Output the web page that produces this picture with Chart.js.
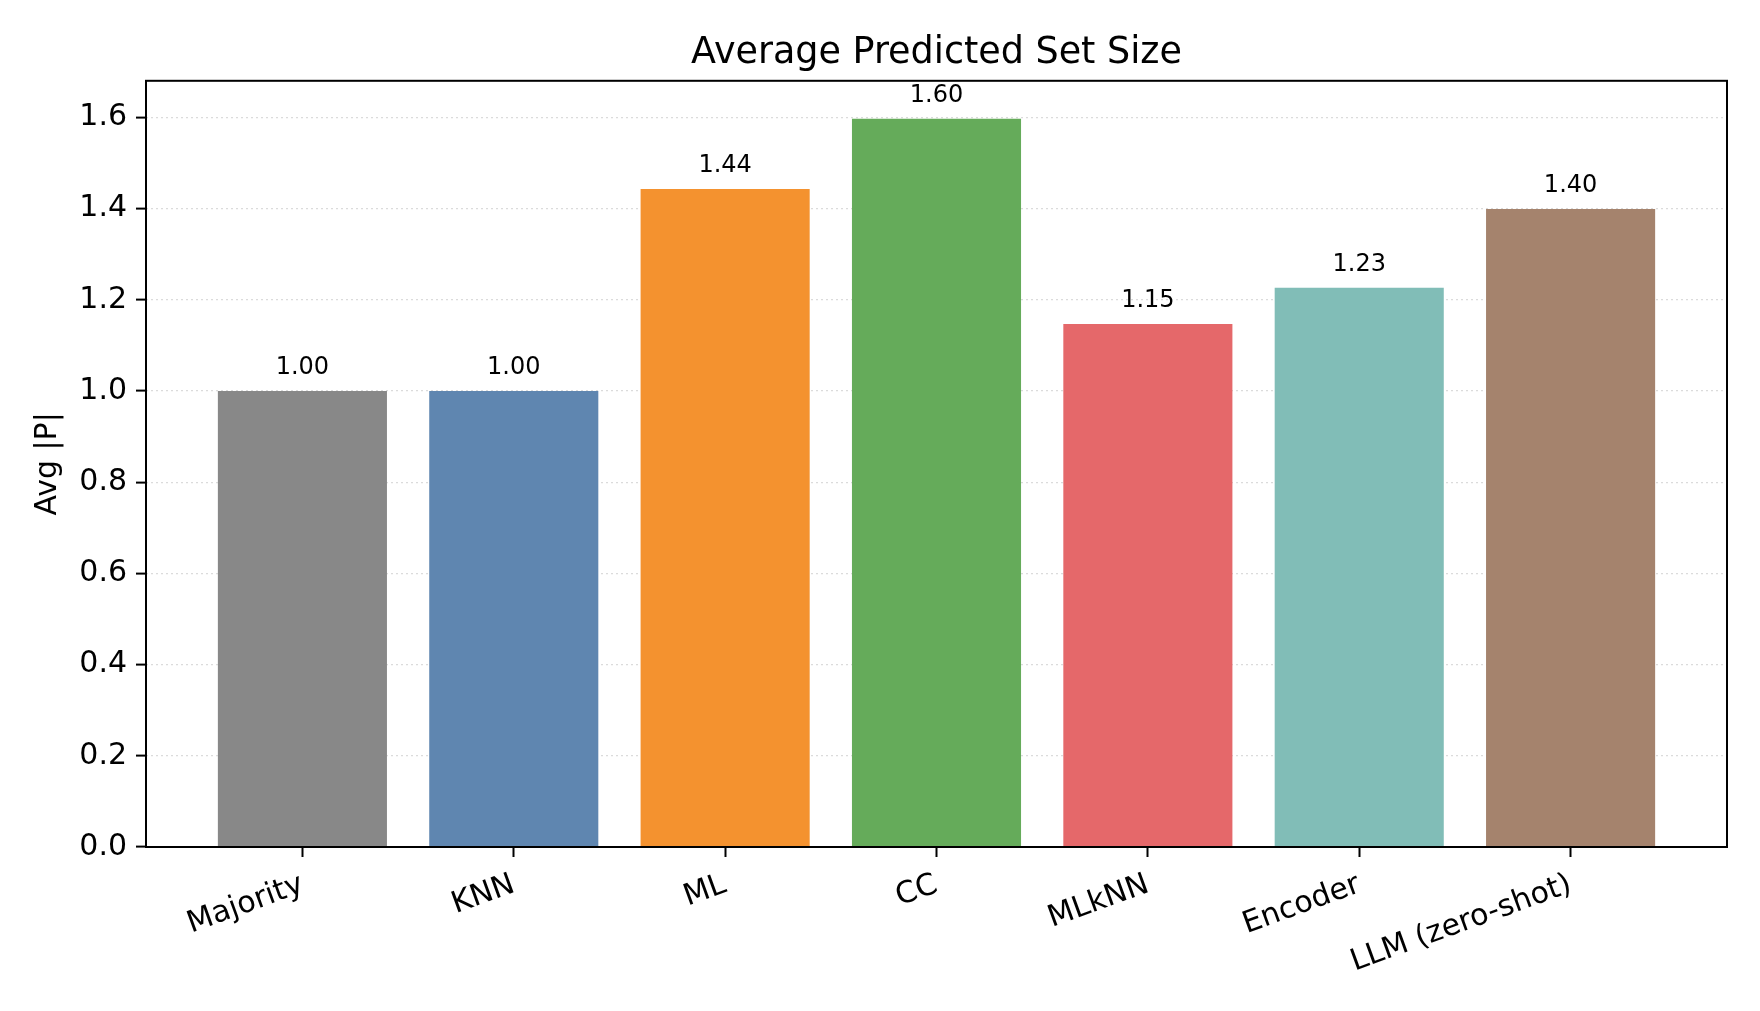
<!DOCTYPE html>
<html>
<head>
<meta charset="utf-8">
<script src="https://cdn.jsdelivr.net/npm/chart.js@4/dist/chart.umd.min.js"></script>
<style>
  html, body { margin: 0; padding: 0; background: #fff; }
  #wrap { width: 1760px; height: 1011px; }
</style>
</head>
<body>
<div id="wrap"><canvas id="chart" width="1760" height="1011"></canvas></div>
<script>
const categories = ["Majority", "KNN", "ML", "CC", "MLkNN", "Encoder", "LLM (zero-shot)"];
const avgSetSize = [1.00, 1.00, 1.443, 1.597, 1.147, 1.226, 1.399];
const barColors = ["#888888", "#5f86b0", "#f4922f", "#65ab5a", "#e5686a", "#81bdb7", "#a5836d"];
const yTicks = [0, 0.2, 0.4, 0.6, 0.8, 1.0, 1.2, 1.4, 1.6];

const FONT = "'DejaVu Sans', sans-serif";

// draws the full black frame plus the numbers over each bar
const frameAndLabels = {
  id: "frameAndLabels",
  afterDatasetsDraw(chart) {
    const { ctx, chartArea } = chart;
    const meta = chart.getDatasetMeta(0);
    ctx.save();
    ctx.fillStyle = "#000";
    ctx.font = "24px " + FONT;
    ctx.textAlign = "center";
    ctx.textBaseline = "alphabetic";
    meta.data.forEach((bar, i) => {
      ctx.fillText(avgSetSize[i].toFixed(2), bar.x, bar.y - 17);
    });
    ctx.strokeStyle = "#000";
    ctx.lineWidth = 2;
    ctx.strokeRect(chartArea.left, chartArea.top, chartArea.right - chartArea.left, chartArea.bottom - chartArea.top);
    ctx.restore();
  }
};

new Chart(document.getElementById("chart"), {
  type: "bar",
  data: {
    datasets: [{
      data: avgSetSize.map((v, i) => ({ x: i, y: v })),
      backgroundColor: barColors,
      borderWidth: 0,
      barPercentage: 0.8,
      categoryPercentage: 1.0,
    }]
  },
  options: {
    responsive: false,
    animation: false,
    layout: { padding: { left: 0, right: 33, top: 0, bottom: 0 } },
    plugins: {
      legend: { display: false },
      tooltip: { enabled: false },
      title: {
        display: true,
        text: "Average Predicted Set Size",
        fullSize: false,
        color: "#000",
        font: { family: FONT, size: 36.5, weight: "normal", lineHeight: 1.2 },
        padding: { top: 32, bottom: 5 }
      }
    },
    scales: {
      x: {
        type: "linear",
        min: -0.74,
        max: 6.74,
        offset: false,
        afterBuildTicks: (scale) => { scale.ticks = categories.map((_, i) => ({ value: i })); },
        afterFit: (scale) => { scale.height = 164; },
        grid: { offset: false, drawOnChartArea: false, tickLength: 10, tickColor: "#000", tickWidth: 2 },
        border: { display: false },
        ticks: {
          autoSkip: false,
          maxRotation: 20,
          minRotation: 20,
          color: "#000",
          padding: 10,
          font: { family: FONT, size: 30 },
          callback: (v) => categories[v]
        }
      },
      y: {
        min: 0,
        max: 1.68,
        afterBuildTicks: (scale) => { scale.ticks = yTicks.map(v => ({ value: v })); },
        afterFit: (scale) => { scale.width = 146; },
        grid: {
          color: "rgba(176,176,176,0.45)",
          lineWidth: 1.2,
          tickLength: 10,
          tickColor: "#000",
          tickWidth: 2,
          tickBorderDash: []
        },
        border: { display: false, dash: [2, 3] },
        title: {
          display: true,
          text: "Avg |P|",
          color: "#000",
          font: { family: FONT, size: 30 },
          padding: { top: 30, bottom: 0 }
        },
        ticks: {
          color: "#000",
          padding: 9,
          font: { family: FONT, size: 30 },
          callback: (v) => v.toFixed(1)
        }
      }
    }
  },
  plugins: [frameAndLabels]
});
</script>
</body>
</html>
